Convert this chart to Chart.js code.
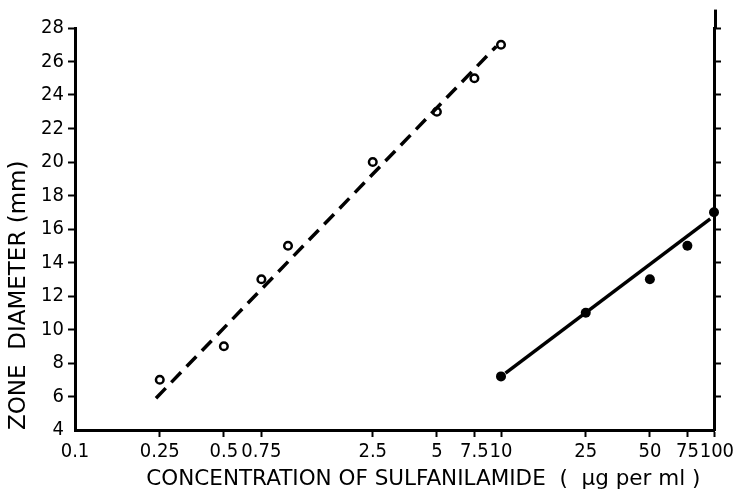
<!DOCTYPE html>
<html>
<head>
<meta charset="utf-8">
<script src="https://cdn.jsdelivr.net/npm/chart.js@4"></script>
<style>
  html, body { margin: 0; padding: 0; background: #fff; }
  #wrap { width: 739px; height: 492px; position: relative; }
</style>
</head>
<body>
<div id="wrap"><canvas id="zoneChart"></canvas></div>
<script>
// x axis (log) tick positions and their labels
const xTickValues = [0.1, 0.25, 0.5, 0.75, 2.5, 5, 7.5, 10, 25, 50, 75, 100];
const xTickLabels = ['0.1', '0.25', '0.5', '0.75', '2.5', '5', '7.5', '10', '25', '50', '75', ' 100'];

// open circles (dashed series)
const openConc = [0.25, 0.5, 0.75, 1, 2.5, 5, 7.5, 10];
const openZone = [7, 9, 13, 15, 20, 23, 25, 27];

// filled circles (solid series)
const filledConc = [10, 25, 50, 75, 100];
const filledZone = [7.2, 11, 13, 15, 17];

// fitted lines, end points
const dashedFitConc = [0.24, 9.5];
const dashedFitZone = [5.9, 26.9];
const solidFitConc = [10.5, 96];
const solidFitZone = [7.4, 16.6];

const toPoints = (xs, ys) => xs.map((x, i) => ({ x: x, y: ys[i] }));

const tickFont = { family: "'DejaVu Sans Condensed', 'DejaVu Sans', sans-serif", size: 20 };
const titleFamily = "'DejaVu Sans', sans-serif";

Chart.defaults.color = '#000';

// right axis line runs a bit above the top tick
const rightAxisExtension = {
    id: 'rightAxisExtension',
    afterDraw(chart) {
        const y2 = chart.scales.y2;
        const ctx = chart.ctx;
        ctx.save();
        ctx.strokeStyle = '#000';
        ctx.lineWidth = 3;
        ctx.beginPath();
        ctx.moveTo(y2.left + 1.5, y2.getPixelForValue(29.1));
        ctx.lineTo(y2.left + 1.5, y2.getPixelForValue(28));
        ctx.stroke();
        ctx.restore();
    }
};

const hideTickAt = (v) => (c) => (c.tick && c.tick.value === v) ? 'rgba(0,0,0,0)' : '#000';

const ctx = document.getElementById('zoneChart');
new Chart(ctx, {
    type: 'scatter',
    data: {
        datasets: [
            {
                label: 'dashed fit',
                data: toPoints(dashedFitConc, dashedFitZone),
                showLine: true,
                borderColor: '#000',
                borderWidth: 3.5,
                borderDash: [14, 8],
                pointRadius: 0
            },
            {
                label: 'solid fit',
                data: toPoints(solidFitConc, solidFitZone),
                showLine: true,
                borderColor: '#000',
                borderWidth: 3.5,
                pointRadius: 0
            },
            {
                label: 'open',
                data: toPoints(openConc, openZone),
                pointStyle: 'circle',
                pointRadius: 3.8,
                borderWidth: 2.5,
                borderColor: '#000',
                backgroundColor: '#fff'
            },
            {
                label: 'filled',
                data: toPoints(filledConc, filledZone),
                pointStyle: 'circle',
                pointRadius: 5,
                borderWidth: 0,
                backgroundColor: '#000'
            }
        ]
    },
    options: {
        responsive: true,
        maintainAspectRatio: false,
        animation: false,
        clip: false,
        layout: { padding: { top: 28, left: 0, right: 0, bottom: 0 } },
        plugins: {
            legend: { display: false },
            tooltip: { enabled: false }
        },
        scales: {
            x: {
                type: 'logarithmic',
                min: 0.1,
                max: 100,
                afterBuildTicks(scale) {
                    scale.ticks = xTickValues.map(v => ({ value: v }));
                },
                afterFit(scale) { scale.height = 62; },
                ticks: {
                    autoSkip: false,
                    maxRotation: 0,
                    padding: 3,
                    font: tickFont,
                    callback: (value) => {
                        const i = xTickValues.indexOf(value);
                        return i >= 0 ? xTickLabels[i] : '';
                    }
                },
                grid: {
                    drawOnChartArea: false,
                    drawTicks: true,
                    tickLength: 7,
                    tickWidth: 2,
                    tickColor: hideTickAt(0.1)
                },
                border: { color: '#000', width: 3 },
                title: {
                    display: true,
                    text: 'CONCENTRATION OF SULFANILAMIDE  (  µg per ml )  ',
                    align: 'end',
                    font: { family: titleFamily, size: 21.5 },
                    padding: { top: 3, bottom: 0 }
                }
            },
            y: {
                position: 'left',
                min: 4,
                max: 28,
                afterFit(scale) { scale.width = 75; },
                ticks: {
                    stepSize: 2,
                    padding: 4,
                    font: tickFont
                },
                grid: {
                    drawOnChartArea: false,
                    drawTicks: true,
                    tickLength: 7,
                    tickWidth: 2,
                    tickColor: hideTickAt(4)
                },
                border: { color: '#000', width: 3 },
                title: {
                    display: true,
                    text: 'ZONE  DIAMETER (mm)',
                    align: 'start',
                    font: { family: titleFamily, size: 23 },
                    padding: { top: 5, bottom: 0 }
                }
            },
            y2: {
                position: 'right',
                min: 4,
                max: 28,
                afterFit(scale) { scale.width = 25; },
                ticks: { stepSize: 2, display: false },
                grid: {
                    drawOnChartArea: false,
                    drawTicks: true,
                    tickLength: 7,
                    tickWidth: 2,
                    tickColor: hideTickAt(4)
                },
                border: { color: '#000', width: 3 }
            }
        }
    },
    plugins: [rightAxisExtension]
});
</script>
</body>
</html>
